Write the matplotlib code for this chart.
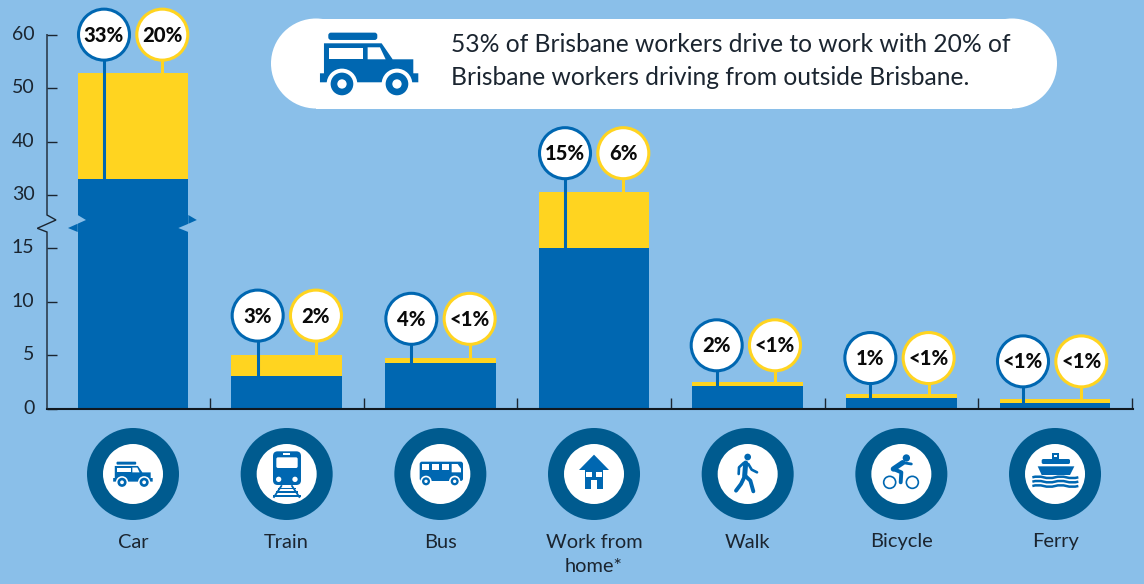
import numpy as np
import matplotlib
matplotlib.use("Agg")
import matplotlib.pyplot as plt
from matplotlib.patches import Circle, FancyBboxPatch, Polygon, Rectangle, PathPatch
from matplotlib.path import Path
from matplotlib.transforms import Affine2D, ScaledTranslation

plt.rcParams['font.family'] = ['Lato', 'DejaVu Sans']

# Data
categories = ['Car', 'Train', 'Bus', 'Work from\nhome*', 'Walk', 'Bicycle', 'Ferry']
inside_values = [33, 3, 4.3, 15, 2.1, 1, 0.5]
outside_values = [19.8, 2, 0.4, 15.6, 0.4, 0.4, 0.4]
inside_labels = ['33%', '3%', '4%', '15%', '2%', '1%', '<1%']
outside_labels = ['20%', '2%', '<1%', '6%', '<1%', '<1%', '<1%']
y_ticks = [0, 5, 10, 15, 30, 40, 50, 60]
callout_lines = ['53% of Brisbane workers drive to work with 20% of',
                 'Brisbane workers driving from outside Brisbane.']

# Colours
BG = '#8ABFE9'
BLUE = '#0067B1'
YELLOW = '#FFD420'
RING = '#005B8F'
INK = '#1B2530'
WIDTH, HEIGHT = 1144, 584

# Hand nudges for the badges, in pixels
badge_dx = [0, 0, 0, 0, -2, -2, -3]
badge_dy = [0, -1, -1, 0, 2, 3, 1]


# Broken y axis: 15 to 30 is squeezed, above 30 runs at half scale
def forward(y):
    return np.interp(y, [-100, 0, 15, 30, 60, 300], [-100, 0, 15, 20, 35, 155])


def inverse(v):
    return np.interp(v, [-100, 0, 15, 20, 35, 155], [-100, 0, 15, 30, 60, 300])


fig = plt.figure(figsize=(WIDTH / 100, HEIGHT / 100), dpi=100, facecolor=BG)

# Main axes, placed in pixels
left, right, top, bottom = 47, 1132.7, 34.7, 408.5
ax = fig.add_axes([left / WIDTH, 1 - bottom / HEIGHT, (right - left) / WIDTH, (bottom - top) / HEIGHT])
ax.set_facecolor('none')
ax.set_zorder(1)
ax.set_yscale('function', functions=(forward, inverse))
ax.set_ylim(0, 60)
ax.set_xlim((left - 133) / 153.67, (right - 133) / 153.67)

x = np.arange(len(categories))
ax.bar(x, inside_values, width=0.72, color=BLUE, linewidth=0)
ax.bar(x, outside_values, width=0.72, bottom=inside_values, color=YELLOW, linewidth=0)

ax.set_yticks(y_ticks)
ax.set_yticklabels([str(t) for t in y_ticks], fontsize=14, color=INK)
ax.tick_params(axis='y', direction='in', length=7.2, width=1, pad=9, color=INK)
# tick labels sit a little above their ticks in the original
label_shift = ScaledTranslation(0, 2 / 100, fig.dpi_scale_trans)
for lab in ax.get_yticklabels():
    lab.set_transform(lab.get_transform() + label_shift)
ax.set_xticks(x)
ax.set_xticklabels(categories, fontsize=14.4, color=INK, linespacing=1.5)
ax.tick_params(axis='x', which='major', length=0, pad=90)
ax.set_xticks(x + 0.5, minor=True)
ax.tick_params(axis='x', which='minor', direction='in', length=8, width=1, color=INK)
for side in ['top', 'right', 'left']:
    ax.spines[side].set_visible(False)
ax.spines['bottom'].set_linewidth(1.5)
ax.spines['bottom'].set_color('#101820')

# Overlay in pixel coordinates for callouts and icons
ov = fig.add_axes([0, 0, 1, 1])
ov.set_zorder(2)
ov.set_xlim(0, WIDTH)
ov.set_ylim(HEIGHT, 0)
ov.axis('off')


def to_px(xv, yv):
    dx, dy = ax.transData.transform((xv, yv))
    return dx, HEIGHT - dy


def tf(cx, cy, s):
    return Affine2D().scale(s).translate(cx, cy) + ov.transData


def rbox(x0, y0, x1, y1, r, color, t, z=6):
    ov.add_patch(FancyBboxPatch((x0 + r, y0 + r), x1 - x0 - 2 * r, y1 - y0 - 2 * r,
                                boxstyle=f'round,pad={r},rounding_size={r}',
                                fc=color, ec='none', transform=t, zorder=z))


def rect(x0, y0, x1, y1, color, t, z=7):
    ov.add_patch(Rectangle((x0, y0), x1 - x0, y1 - y0, fc=color, ec='none', transform=t, zorder=z))


def draw_car(cx, cy, s):
    t = tf(cx, cy, s)
    rbox(-123, -92, 24, -70, 8, BLUE, t)
    ov.add_patch(Polygon([(-136, -60), (37, -60), (70, -12), (132, -12), (132, 30), (147, 30),
                          (147, 57), (-148, 57), (-148, 30), (-136, 30)],
                         fc=BLUE, ec='none', transform=t, zorder=6))
    rect(-120, -45, -18, -12, 'white', t)
    ov.add_patch(Polygon([(-5, -48), (32, -48), (49, -12), (-5, -12)], fc='white', ec='none',
                         transform=t, zorder=7))
    for wx in [-82, 83]:
        ov.add_patch(Circle((wx, 62), 46, fc='white', ec='none', transform=t, zorder=7))
        ov.add_patch(Circle((wx, 62), 34, fc=BLUE, ec='none', transform=t, zorder=8))
        ov.add_patch(Circle((wx, 62), 14, fc='white', ec='none', transform=t, zorder=9))


def draw_train(cx, cy, s):
    t = tf(cx, cy, s)
    rbox(-41, -68, 43, 33, 14, BLUE, t)
    rbox(-31, -50, 33, -18, 5, 'white', t, z=7)
    rect(-11, -64, 11, -56, 'white', t)
    for lx in [-24, 25]:
        ov.add_patch(Circle((lx, 16), 8, fc='white', ec='none', transform=t, zorder=7))
    for y0, half in [(41, 27), (52, 33), (63, 42)]:
        rect(-half, y0, half, y0 + 5, BLUE, t)
    ov.plot([-16, -38], [36, 69], color=BLUE, lw=1.3, transform=t, zorder=7)
    ov.plot([16, 38], [36, 69], color=BLUE, lw=1.3, transform=t, zorder=7)


def draw_bus(cx, cy, s):
    t = tf(cx, cy, s)
    rbox(-62, -37, 68, 21, 7, BLUE, t)
    for wx in [-56, -26, 4]:
        rect(wx, -30, wx + 22, -12, 'white', t)
    ov.add_patch(Polygon([(34, -30), (52, -30), (62, -16), (62, -5), (34, -5)], fc='white', ec='none',
                         transform=t, zorder=7))
    for wx in [-43, 43]:
        ov.add_patch(Circle((wx, 22), 17, fc='white', ec='none', transform=t, zorder=7))
        ov.add_patch(Circle((wx, 22), 12, fc=BLUE, ec='none', transform=t, zorder=8))
        ov.add_patch(Circle((wx, 22), 5, fc='white', ec='none', transform=t, zorder=9))


def draw_house(cx, cy, s):
    t = tf(cx, cy, s)
    ov.add_patch(Polygon([(0, -58), (45, -12), (-45, -12)], fc=BLUE, ec='none', transform=t, zorder=6))
    rect(-28, -12, 28, 45, BLUE, t, z=6)
    rect(-23, -5, -6, 10, 'white', t)
    rect(6, -5, 23, 10, 'white', t)
    rect(-10, 17, 10, 45, 'white', t)


def draw_walker(cx, cy, s):
    t = tf(cx, cy, s)
    ov.add_patch(Circle((0, -51), 10, fc=BLUE, ec='none', transform=t, zorder=6))
    limbs = [([-6, -9], [-33, 5], 3.6),
             ([-12, -26, -27], [-33, -20, 0], 1.9),
             ([2, 12, 28], [-30, -13, -5], 1.9),
             ([-8, -20, -35], [5, 30, 50], 2.8),
             ([-8, 8, 17], [5, 20, 52], 2.8)]
    for xs, ys, lw in limbs:
        ov.plot(xs, ys, color=BLUE, lw=lw, solid_capstyle='round', solid_joinstyle='round',
                transform=t, zorder=6)


def draw_bicycle(cx, cy, s):
    t = tf(cx, cy, s)
    for wx in [-35, 33]:
        ov.add_patch(Circle((wx, 25), 18, fc='none', ec=BLUE, lw=1.2, transform=t, zorder=6))
    ov.add_patch(Circle((15, -48), 11, fc=BLUE, ec='none', transform=t, zorder=6))
    limbs = [([-24, 4], [-15, -34], 3.8),
             ([4, 30], [-34, -30], 2.0),
             ([-24, 0, -2], [-15, -5, 25], 2.8)]
    for xs, ys, lw in limbs:
        ov.plot(xs, ys, color=BLUE, lw=lw, solid_capstyle='round', solid_joinstyle='round',
                transform=t, zorder=6)


def draw_ferry(cx, cy, s):
    t = tf(cx, cy, s)
    rect(-9, -63, 12, -45, BLUE, t, z=6)
    rect(-4, -58, 7, -50, 'white', t)
    rbox(-40, -45, 45, -30, 5, BLUE, t)
    ov.add_patch(Polygon([(-52, -23), (58, -23), (45, 3), (-40, 3)], fc=BLUE, ec='none',
                         transform=t, zorder=6))
    for wy in [10, 23, 36]:
        verts = [(-68, wy), (-51, wy - 5), (-34, wy), (-17, wy + 5), (0, wy), (17, wy - 5),
                 (34, wy), (51, wy + 5), (70, wy)]
        codes = [Path.MOVETO] + [Path.CURVE3] * 8
        ov.add_patch(PathPatch(Path(verts, codes), fc='none', ec=BLUE, lw=1.8, transform=t, zorder=6))


# Broken y axis line with its zigzag
ov.plot([left, left, 56, 37.3, left, left], [top, 215, 220, 228.3, 232, bottom], color=INK, lw=1,
        solid_joinstyle='miter', zorder=3)

# Zigzag notches in the car bar
car_l, car_r = to_px(-0.36, 0)[0], to_px(0.36, 0)[0]
ov.add_patch(Polygon([(car_l, 215), (car_l + 8.3, 220), (car_l, 223.7)], fc=BG, ec='none', zorder=2))
ov.add_patch(Polygon([(car_l, 223.7), (car_l - 9.7, 228), (car_l, 232)], fc=BLUE, ec='none', zorder=2))
ov.add_patch(Polygon([(car_r, 215), (car_r + 8.5, 220), (car_r, 223.8)], fc=BLUE, ec='none', zorder=2))
ov.add_patch(Polygon([(car_r, 223.8), (car_r - 10, 228), (car_r, 232)], fc=BG, ec='none', zorder=2))

# Value badges on stems
for i in range(len(categories)):
    cx, stack_top = to_px(i, inside_values[i] + outside_values[i])
    inside_top = to_px(i, inside_values[i])[1]
    cx += badge_dx[i]
    cy = stack_top - 38.5 + badge_dy[i]
    for bx, stem_end, color, label in [(cx - 29, inside_top, BLUE, inside_labels[i]),
                                       (cx + 29.3, stack_top, YELLOW, outside_labels[i])]:
        ov.plot([bx, bx], [cy, stem_end], color=color, lw=2.2, solid_capstyle='butt', zorder=3)
        ov.add_patch(Circle((bx, cy), 25.5, fc='white', ec=color, lw=2.2, zorder=4))
        ov.text(bx, cy + 0.5, label, ha='center', va='center', fontsize=14.6, fontweight='black',
                color='#0A0A0A', zorder=5)

# Round icons under the axis
icon_funcs = [draw_car, draw_train, draw_bus, draw_house, draw_walker, draw_bicycle, draw_ferry]
for i, draw in enumerate(icon_funcs):
    cx = to_px(i, 0)[0]
    ov.add_patch(Circle((cx, 474), 46, fc=RING, ec='none', zorder=4))
    ov.add_patch(Circle((cx, 474), 30, fc='white', ec='none', zorder=5))
    draw(cx, 474, 0.134 if draw is draw_car else 1 / 3)

# Callout pill
for px_x in [316, 1012]:
    ov.add_patch(Circle((px_x, 63.5), 45, fc='white', ec='none', zorder=3))
ov.add_patch(Rectangle((316, 18.5), 696, 90, fc='white', ec='none', zorder=3))
draw_car(369.3, 63.3, 1 / 3)
for line, ty in zip(callout_lines, [45, 77.5]):
    ov.text(451, ty, line, ha='left', va='center', fontsize=17.7, color=INK, zorder=5)

fig.savefig('out.png', dpi=100, facecolor=BG)
